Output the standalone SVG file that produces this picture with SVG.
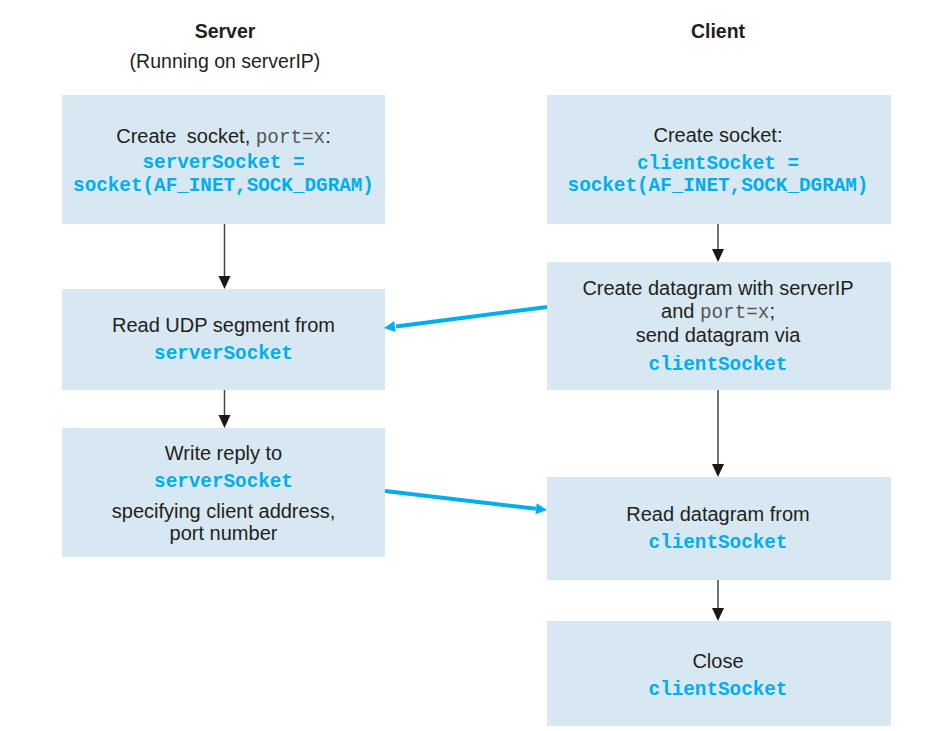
<svg xmlns="http://www.w3.org/2000/svg" width="927" height="731" viewBox="0 0 927 731">
<style>
.box{fill:#d7e8f2}
.t{font-family:"Liberation Sans",Arial,sans-serif;font-size:20px;fill:#231f20;text-anchor:middle}
.h{font-family:"Liberation Sans",Arial,sans-serif;font-size:19.5px;fill:#231f20;text-anchor:middle}
.b{font-weight:bold}
.c{font-family:"Liberation Mono","Courier New",monospace;font-size:19.3px;font-weight:bold;fill:#00aeef}
.m{font-family:"Liberation Mono","Courier New",monospace;font-size:19.3px;fill:#555}
.ln{stroke:#444;stroke-width:1.5;fill:none}
.hd{fill:#1a1a1a}
.bl{stroke:#00aeef;stroke-width:4;fill:none}
.bh{fill:#00aeef}
</style>
<rect width="927" height="731" fill="#ffffff"/>
<g id="headers">
<text class="h b" x="225" y="38">Server</text>
<text class="h" x="225" y="68">(Running on serverIP)</text>
<text class="h b" x="718" y="38">Client</text>
</g>
<g id="server-create">
<rect class="box" x="62" y="95" width="323" height="129"/>
<text class="t" x="223.5" y="143">Create <tspan dx="5">socket,</tspan> <tspan class="m">port=x</tspan>:</text>
<text class="t c" x="223.5" y="168">serverSocket =</text>
<text class="t c" x="223.5" y="191">socket(AF_INET,SOCK_DGRAM)</text>
</g>
<g id="server-read">
<rect class="box" x="62" y="289" width="323" height="101"/>
<text class="t" x="223.5" y="332">Read UDP segment from</text>
<text class="t c" x="223.5" y="359">serverSocket</text>
</g>
<g id="server-write">
<rect class="box" x="62" y="428" width="323" height="129"/>
<text class="t" x="223.5" y="460">Write reply to</text>
<text class="t c" x="223.5" y="487">serverSocket</text>
<text class="t" x="223.5" y="518">specifying client address,</text>
<text class="t" x="223.5" y="540">port number</text>
</g>
<g id="client-create">
<rect class="box" x="547" y="95" width="344" height="129"/>
<text class="t" x="718" y="142">Create socket:</text>
<text class="t c" x="718" y="169">clientSocket =</text>
<text class="t c" x="718" y="191">socket(AF_INET,SOCK_DGRAM)</text>
</g>
<g id="client-send">
<rect class="box" x="547" y="262" width="344" height="128"/>
<text class="t" x="718" y="295">Create datagram with serverIP</text>
<text class="t" x="718" y="318">and <tspan class="m">port=x</tspan>;</text>
<text class="t" x="718" y="342">send datagram via</text>
<text class="t c" x="718" y="370">clientSocket</text>
</g>
<g id="client-read">
<rect class="box" x="547" y="477" width="344" height="103"/>
<text class="t" x="718" y="521">Read datagram from</text>
<text class="t c" x="718" y="548">clientSocket</text>
</g>
<g id="client-close">
<rect class="box" x="547" y="621" width="344" height="105"/>
<text class="t" x="718" y="668">Close</text>
<text class="t c" x="718" y="695">clientSocket</text>
</g>
<g id="connectors">
<line class="ln" x1="224.5" y1="224" x2="224.5" y2="278"/>
<polygon class="hd" points="218.5,276 230.5,276 224.5,289"/>
<line class="ln" x1="224.5" y1="390" x2="224.5" y2="417"/>
<polygon class="hd" points="218.5,415 230.5,415 224.5,428"/>
<line class="ln" x1="718" y1="224" x2="718" y2="251"/>
<polygon class="hd" points="712,249 724,249 718,262"/>
<line class="ln" x1="718" y1="390" x2="718" y2="466"/>
<polygon class="hd" points="712,464 724,464 718,477"/>
<line class="ln" x1="718" y1="580" x2="718" y2="610"/>
<polygon class="hd" points="712,608 724,608 718,621"/>
<line class="bl" x1="547" y1="307" x2="396" y2="326.5"/>
<polygon class="bh" points="384,328 395.6,332.1 394.2,321.1"/>
<line class="bl" x1="385" y1="491" x2="536" y2="508.7"/>
<polygon class="bh" points="547,510 535.5,514.2 536.7,503.3"/>
</g>
</svg>
